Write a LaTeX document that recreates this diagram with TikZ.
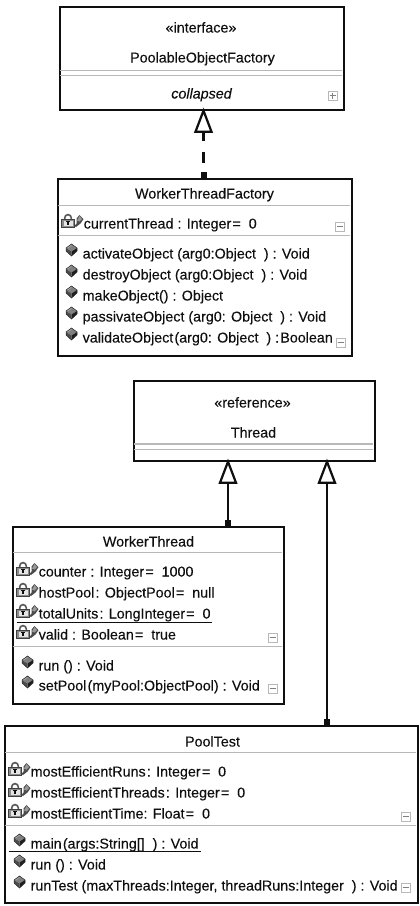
\documentclass[tikz,border=0pt]{standalone}
\usepackage{fontspec}
\usetikzlibrary{calc}
\setmainfont{Liberation Sans}[FakeBold=0.15]
\definecolor{ink}{gray}{0.06}
\definecolor{sepgray}{gray}{0.72}
\newcommand{\ts}{\kern1.2pt}
\tikzset{
  x=1pt,y=1pt,
  classbox/.style={draw=ink,line width=2.2pt,fill=white,rectangle,inner sep=0pt,anchor=north west},
  sepline/.style={draw=sepgray,line width=1.3pt},
  rowtxt/.style={anchor=base west,inner sep=0pt,text=ink,font=\fontsize{14.3}{16}\selectfont},
  midtxt/.style={anchor=base,inner sep=0pt,text=ink,font=\fontsize{14.3}{16}\selectfont},
  togglebox/.style={draw=sepgray,line width=1pt,fill=white,minimum size=9pt,inner sep=0pt,rectangle},
  togglemark/.style={draw=gray,line width=0.9pt},
  conn/.style={draw=ink,line width=2.3pt},
  headtri/.style={draw=ink,line width=2.2pt,fill=white,line join=miter},
  stub/.style={fill=ink},
  ruleline/.style={draw=ink,line width=1pt},
}
% method gem: (x,y) is the centre
\newcommand{\gemicon}[2]{%
  \begin{scope}[shift={(#1,#2)}]
    \fill[black!50] (-5.5,2) -- (0,6) -- (5.5,2) -- (0,-1.5) -- cycle;
    \fill[black!70] (-5.5,2) -- (0,-1.5) -- (0,-6) -- (-5.5,-1) -- cycle;
    \fill[black!88] (0,-1.5) -- (5.5,2) -- (5.5,-1) -- (0,-6) -- cycle;
    \draw[black!85,line width=0.5pt] (-5.5,2) -- (0,6) -- (5.5,2) -- (5.5,-1) -- (0,-6) -- (-5.5,-1) -- cycle;
    \draw[white!70!black,line width=0.5pt] (-4,2) -- (0,4.7);
  \end{scope}}
% field icon: padlock + small gem; (x,y) = lock's left edge on the text baseline
\newcommand{\lockicon}[2]{%
  \begin{scope}[shift={(#1,#2)}]
    \fill[black!70] (13,2.5) -- (15,5) -- (15,10) -- (18,13.5) -- (22,9.5) -- (19,5) -- (14.5,1.5) -- cycle;
    \fill[black!40] (15.5,8) -- (18,12.5) -- (20.5,9.5) -- (18,7) -- cycle;
    \draw[black!65,line width=1.6pt] (3.2,8) -- (3.2,10.6) arc (180:0:3.3) -- (9.8,8);
    \fill[black!45] (0,1.5) rectangle (13,9);
    \fill[white!90!black] (2,3) rectangle (11,7.8);
    \draw[ink,line width=1.1pt] (4.3,7) -- (8.7,7) (6.5,7) -- (6.5,3.2);
    \draw[black!75,line width=0.8pt] (0,1.5) rectangle (13,9);
  \end{scope}}
\newcommand{\togglesign}[4]{% name, x, y, plus or minus
  \node[togglebox] (#1) at (#2,#3) {};
  \draw[togglemark] (#2-3,#3) -- (#2+3,#3);
  #4}
\newcommand{\fieldrow}[4]{% name,x,baseline,text
  \lockicon{#2-22}{#3}
  \node[rowtxt] (#1) at (#2,#3) {#4};}
\newcommand{\methodrow}[4]{%
  \gemicon{#2-11}{#3+8.5}
  \node[rowtxt] (#1) at (#2,#3) {#4};}
\begin{document}
\begin{tikzpicture}
\useasboundingbox (0.5,-0.5) rectangle (420.5,-906.5);
\fill[white] (0.5,-0.5) rectangle (420.5,-906.5);

% connectors' x positions
\coordinate (xa) at (204,0);
\coordinate (xb) at (228.5,0);
\coordinate (xc) at (327.5,0);

% class boxes
\node[classbox,minimum width=284pt,minimum height=103pt] (pof) at (59,-6) {};
\node[classbox,minimum width=294pt,minimum height=177pt] (wtf) at (57,-178) {};
\node[classbox,minimum width=241pt,minimum height=80pt]  (thr) at (133,-380) {};
\node[classbox,minimum width=271pt,minimum height=177pt] (wt)  at (12,-526) {};
\node[classbox,minimum width=413pt,minimum height=177pt] (pt)  at (4,-725) {};

% connectors
\draw[conn,dash pattern=on 6pt off 9pt on 11pt off 11pt on 10pt off 30pt] (xa |- wtf.north) -- (xa |- 0,-131);
\draw[conn] (xb |- wt.north) -- (xb |- 0,-481);
\draw[conn] (xc |- pt.north) -- (xc |- 0,-481);
\draw[headtri] (xa |- pof.south) -- ++(8,-21) -- ++(-16,0) -- cycle;
\draw[headtri] (xb |- thr.south) -- ++(8,-21) -- ++(-16,0) -- cycle;
\draw[headtri] (xc |- thr.south) -- ++(8,-21) -- ++(-16,0) -- cycle;
\fill[stub] ($(xa |- wtf.north)+(-3,0)$) rectangle ++(6,6);
\fill[stub] ($(xb |- wt.north)+(-3,0)$) rectangle ++(6,6);
\fill[stub] ($(xc |- pt.north)+(-3,0)$) rectangle ++(6,6);

% separators
\draw[sepline] (60,-70.7) -- (342,-70.7);
\draw[sepline] (60,-76) -- (342,-76);
\draw[sepline] (58,-206) -- (350,-206);
\draw[sepline] (58,-236) -- (350,-236);
\draw[sepline] (134,-444.5) -- (373,-444.5);
\draw[sepline] (134,-450) -- (373,-450);
\draw[sepline] (13,-553) -- (282,-553);
\draw[sepline] (13,-647) -- (282,-647);
\draw[sepline] (5,-753) -- (416,-753);
\draw[sepline] (5,-826) -- (416,-826);

% PoolableObjectFactory
\node[midtxt] (pofa) at (201.5,-33) {«interface»};
\node[midtxt] (pofb) at (203,-63) {PoolableObjectFactory};
\node[midtxt] (pofc) at (202,-99) {\itshape collapsed};
\togglesign{pofd}{333}{-96}{\draw[togglemark] (333,-93) -- (333,-99);}

% WorkerThreadFactory
\node[midtxt] (wtfa) at (205,-199) {WorkerThreadFactory};
\fieldrow{wtfb}{84}{-229}{currentThread : Integer\ts=\ \ 0}
\methodrow{wtfc}{83}{-259}{activateObject (arg0:Object\ \ ) : Void}
\methodrow{wtfd}{83}{-280}{destroyObject (arg0:Object\ \ ) : Void}
\methodrow{wtfe}{83}{-301}{makeObject() : Object}
\methodrow{wtff}{83}{-322}{passivateObject (arg0: Object\ \ ) : Void}
\methodrow{wtfg}{83}{-343}{validateObject\ts(arg0: Object\ \ ) :\ts Boolean}
\togglesign{wtfh}{340}{-227}{}
\togglesign{wtfi}{341}{-343}{}

% Thread
\node[midtxt] (thra) at (253,-408) {«reference»};
\node[midtxt] (thrb) at (254,-438) {Thread};

% WorkerThread
\node[midtxt] (wta) at (149,-547) {WorkerThread};
\fieldrow{wtb}{39}{-577}{counter : Integer\ts=\ \ 1000}
\fieldrow{wtc}{39}{-598}{hostPool\ts: ObjectPool\ts=\ \ null}
\fieldrow{wtd}{39}{-619}{totalUnits\ts: LongInteger\ts=\ \ 0}
\fieldrow{wte}{39}{-640}{valid : Boolean\ts=\ \ true}
\methodrow{wtf2}{39}{-671}{run () : Void}
\methodrow{wtg}{39}{-691}{setPool\ts(myPool:ObjectPool) : Void}
\draw[ruleline] (17,-623) -- (212,-623);
\togglesign{wth}{273}{-638}{}
\togglesign{wti}{273}{-689}{}

% PoolTest
\node[midtxt] (pta) at (213,-747) {PoolTest};
\fieldrow{ptb}{31}{-777}{mostEfficientRuns\ts: Integer\ts=\ \ 0}
\fieldrow{ptc}{31}{-798}{mostEfficientThreads\ts: Integer\ts=\ \ 0}
\fieldrow{ptd}{31}{-819}{mostEfficientTime: Float\ts=\ \ 0}
\methodrow{pte}{31}{-849}{main\ts(args:String[]\ \ ) : Void}
\methodrow{ptf}{31}{-870}{run () : Void}
\methodrow{ptg}{31}{-891}{runTest (maxThreads:Integer, threadRuns:Integer\ \ ) : Void}
\draw[ruleline] (9,-851.5) -- (201,-851.5);
\togglesign{pth}{406}{-817}{}
\togglesign{pti}{406}{-888}{}
\end{tikzpicture}
\end{document}
